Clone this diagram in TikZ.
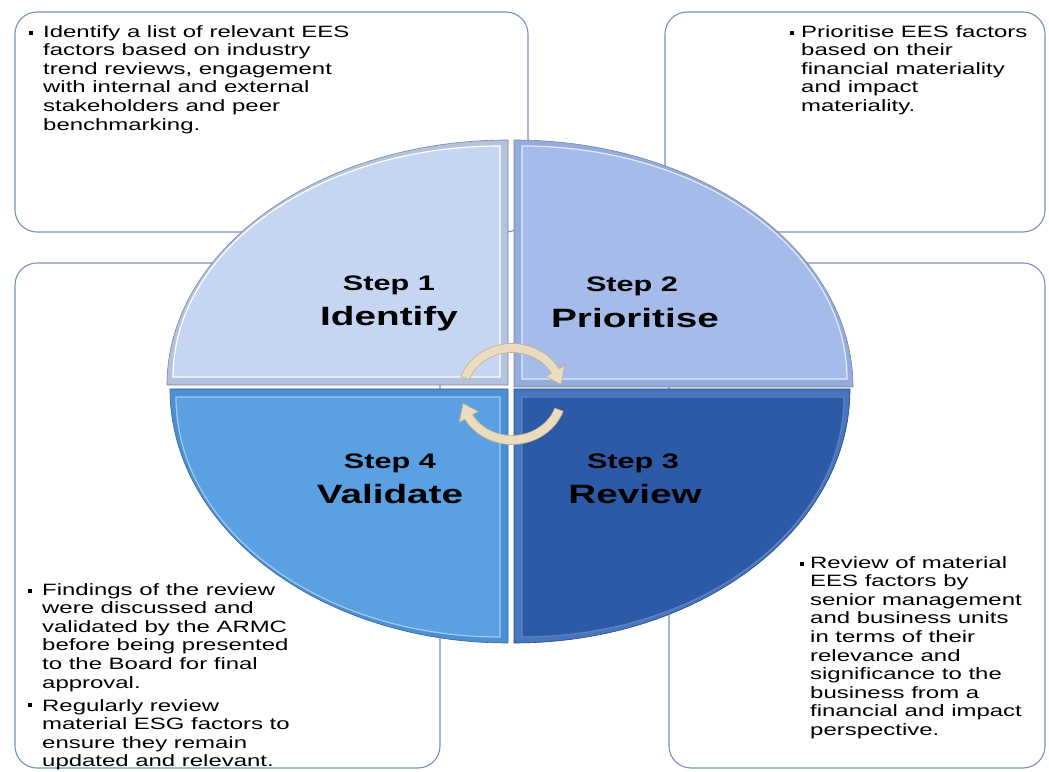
\documentclass[tikz,border=0pt]{standalone}
\usepackage{fontspec}
\setmainfont{Liberation Sans}
\newfontfamily\bodyfont[FakeStretch=1.46]{Liberation Sans}
\usetikzlibrary{calc}

\definecolor{boxline}{HTML}{7890BC}
\definecolor{rimline}{HTML}{7A8698}
\definecolor{tlmain}{HTML}{C6D6F2}
\definecolor{tlrim}{HTML}{B3C3DF}
\definecolor{trmain}{HTML}{A5BCEA}
\definecolor{trrim}{HTML}{93ACDD}
\definecolor{blmain}{HTML}{5AA0E2}
\definecolor{blrim}{HTML}{4B90D4}
\definecolor{brmain}{HTML}{2D5AA6}
\definecolor{brrim}{HTML}{4675C2}
\definecolor{arrowfill}{HTML}{EADCC0}
\definecolor{arrowline}{HTML}{C4AE86}

% pie slice of an ellipse: centre x, centre y, start angle, end angle, rx, ry, style
\newcommand\pieslice[7]{%
  \path[#7] (#1,#2) -- ++(#3:#5pt and #6pt)
    arc[start angle=#3, end angle=#4, x radius=#5pt, y radius=#6pt] -- cycle;}

\begin{document}
\begin{tikzpicture}[x=1pt,y=1pt,
  infobox/.style={draw=boxline, line width=1.1pt, fill=white, rounded corners=22pt},
  bodytext/.style={font=\bodyfont\fontsize{16.4}{18.6}\selectfont, align=left,
    inner sep=0pt, anchor=north west, text=black},
  bulletmark/.style={fill=black, inner sep=0pt, minimum size=4pt},
  steptext/.style={font=\bodyfont\bfseries\fontsize{21}{24}\selectfont, inner sep=0pt, anchor=base},
  titletext/.style={font=\bodyfont\bfseries\fontsize{26.5}{30}\selectfont, inner sep=0pt, anchor=base},
  cyclearrow/.style={fill=arrowfill, draw=arrowline, line width=0.6pt}]

\fill[white] (0,0) rectangle (1049,771);
\useasboundingbox (0,0) rectangle (1049,771);

% text panels behind the cycle
\draw[infobox] (15,759) rectangle (528,539);
\draw[infobox] (665,759) rectangle (1045,539);
\draw[infobox] (15,508) rectangle (440,3);
\draw[infobox] (669,508) rectangle (1045,3);

% four segments: rim first, then face
\pieslice{508}{386}{90}{180}{341}{245}{fill=tlrim, draw=rimline, line width=0.6pt}
\pieslice{500}{394}{90}{180}{327}{231}{fill=tlmain, draw=white, line width=1.2pt}
\pieslice{514}{384}{0}{90}{339}{247}{fill=trrim, draw=rimline, line width=0.6pt}
\pieslice{522}{392}{0}{90}{325}{233}{fill=trmain, draw=white!70!trmain, line width=1.2pt}
\pieslice{508}{382}{180}{270}{338}{254}{fill=blrim, draw=blrim!70!black, line width=0.6pt}
\pieslice{500}{374}{180}{270}{324}{240}{fill=blmain, draw=white!45!blmain, line width=1.2pt}
\pieslice{514}{382}{270}{360}{336}{254}{fill=brrim, draw=brrim!60!black, line width=0.6pt}
\pieslice{522}{374}{270}{360}{322}{240}{fill=brmain, draw=white!25!brmain, line width=1.2pt}

% cycle arrows in the middle
\begin{scope}[shift={(512,377)}]
  \path[cyclearrow] (160:54.5pt and 50.5pt)
    arc[start angle=160, end angle=30, x radius=54.5pt, y radius=50.5pt]
    -- (30:61pt and 57pt) -- (12:50pt and 46pt) -- (30:39pt and 35pt)
    -- (30:45.5pt and 41.5pt)
    arc[start angle=30, end angle=160, x radius=45.5pt, y radius=41.5pt] -- cycle;
  \path[cyclearrow] (-20:54.5pt and 50.5pt)
    arc[start angle=-20, end angle=-150, x radius=54.5pt, y radius=50.5pt]
    -- (-150:61pt and 57pt) -- (-168:50pt and 46pt) -- (-150:39pt and 35pt)
    -- (-150:45.5pt and 41.5pt)
    arc[start angle=-150, end angle=-20, x radius=45.5pt, y radius=41.5pt] -- cycle;
\end{scope}

% segment labels
\node[steptext]  (s1) at (389,480) {Step 1};
\node[titletext] (l1) at (389,445) {Identify};
\node[steptext]  (s2) at (632,479) {Step 2};
\node[titletext] (l2) at (635,443) {Prioritise};
\node[steptext]  (s4) at (390,302) {Step 4};
\node[titletext] (l4) at (390,267) {Validate};
\node[steptext]  (s3) at (633,302) {Step 3};
\node[titletext] (l3) at (635,267) {Review};

% panel texts
\node[bulletmark] (b1) at (31,738) {};
\node[bodytext] (t1) at (43,746) {Identify a list of relevant EES\\factors based on industry\\trend reviews, engagement\\with internal and external\\stakeholders and peer\\benchmarking.};

\node[bulletmark] (b2) at (792,738) {};
\node[bodytext] (t2) at (801,746) {Prioritise EES factors\\based on their\\financial materiality\\and impact\\materiality.};

\node[bulletmark] (b3) at (30,180) {};
\node[bodytext] (t3) at (42,188) {Findings of the review\\were discussed and\\validated by the ARMC\\before being presented\\to the Board for final\\approval.\\[4.5pt]Regularly review\\material ESG factors to\\ensure they remain\\updated and relevant.};
\node[bulletmark] (b3b) at (30,66) {};

\node[bulletmark] (b4) at (802,207) {};
\node[bodytext] (t4) at (810,215) {Review of material\\EES factors by\\senior management\\and business units\\in terms of their\\relevance and\\significance to the\\business from a\\financial and impact\\perspective.};
\end{tikzpicture}
\end{document}
